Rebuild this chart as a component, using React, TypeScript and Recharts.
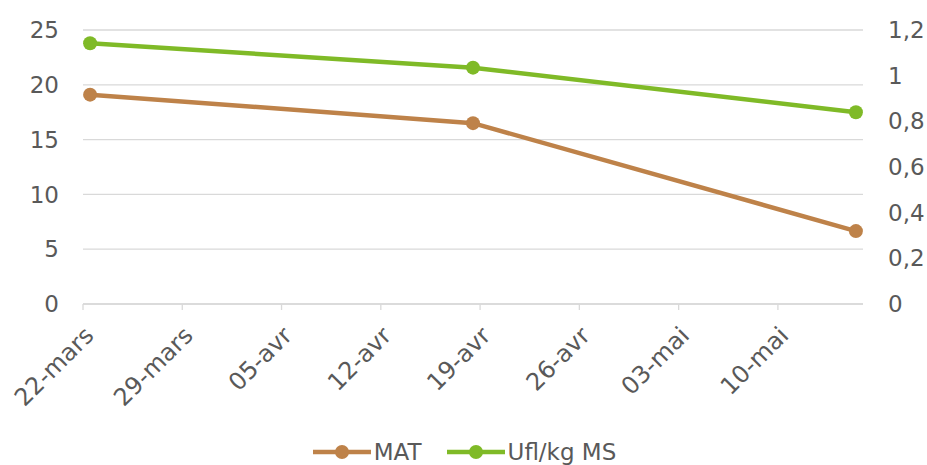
import { LineChart, Line, XAxis, YAxis, CartesianGrid, Legend } from 'recharts';

// days counted from 22-mars
const sampleDays = [0, 27, 54];
const sampleDates = ['22-mars', '18-avr', '15-mai'];
const matValues = [19.1, 16.5, 6.65];
const uflValues = [1.142, 1.035, 0.84];

const tickDays = [0, 7, 14, 21, 28, 35, 42, 49];
const tickLabels = ['22-mars', '29-mars', '05-avr', '12-avr', '19-avr', '26-avr', '03-mai', '10-mai'];
const leftTicks = [0, 5, 10, 15, 20, 25];
const rightTicks = [0, 0.2, 0.4, 0.6, 0.8, 1, 1.2];

const MAT_COLOR = '#BE8249';
const UFL_COLOR = '#7FBA27';
const TEXT = '#595959';
const GRID = '#D9D9D9';
const FONT = 'Verdana, "DejaVu Sans", sans-serif';

// Excel date axis puts each point in the middle of its day
const data = sampleDays.map((d, i) => ({
  day: d + 0.5,
  date: sampleDates[i],
  mat: matValues[i],
  ufl: uflValues[i],
}));

const DateTick = (props: any) => {
  const { x, y, payload } = props;
  const idx = tickDays.indexOf(payload.value);
  const tx = x + 12;
  const ty = y + 25;
  return (
    <text
      x={tx}
      y={ty}
      transform={`rotate(-45, ${tx}, ${ty})`}
      textAnchor="end"
      fill={TEXT}
      fontSize={24}
      fontFamily={FONT}
    >
      {idx >= 0 ? tickLabels[idx] : ''}
    </text>
  );
};

const LegendContent = () => {
  const items = [
    { name: 'MAT', color: MAT_COLOR },
    { name: 'Ufl/kg MS', color: UFL_COLOR },
  ];
  return (
    <div style={{ display: 'flex', justifyContent: 'center', alignItems: 'center', height: 30, paddingLeft: 2 }}>
      {items.map((it, i) => (
        <div key={it.name} style={{ display: 'flex', alignItems: 'center', marginLeft: i === 0 ? 0 : 25 }}>
          <svg width={58} height={16}>
            <line x1={0} y1={8} x2={58} y2={8} stroke={it.color} strokeWidth={4.5} />
            <circle cx={29} cy={8} r={7} fill={it.color} />
          </svg>
          <span style={{ marginLeft: 3, fontSize: 23, fontFamily: FONT, color: TEXT, lineHeight: '30px' }}>{it.name}</span>
        </div>
      ))}
    </div>
  );
};

export default function App() {
  return (
    <div style={{ position: 'absolute', left: 0, top: 0, background: '#fff' }}>
      <LineChart width={927} height={465} data={data} margin={{ top: 30, right: 0, left: 0, bottom: 0 }}>
        <CartesianGrid vertical={false} stroke={GRID} strokeWidth={1.3} yAxisId="left" />
        <XAxis
          dataKey="day"
          type="number"
          domain={[0, 55]}
          ticks={tickDays}
          interval={0}
          height={131}
          tick={<DateTick />}
          tickSize={6}
          axisLine={{ stroke: GRID, strokeWidth: 1.3 }}
          tickLine={{ stroke: GRID, strokeWidth: 1.3 }}
        />
        <YAxis
          yAxisId="left"
          width={83}
          domain={[0, 25]}
          ticks={leftTicks}
          interval={0}
          axisLine={false}
          tickLine={false}
          tickSize={1}
          tickMargin={23}
          tick={{ fill: TEXT, fontSize: 23, fontFamily: FONT }}
        />
        <YAxis
          yAxisId="right"
          orientation="right"
          width={64}
          domain={[0, 1.2]}
          ticks={rightTicks}
          interval={0}
          axisLine={false}
          tickLine={false}
          tickSize={1}
          tickMargin={24}
          tickFormatter={(v: number) => String(Math.round(v * 10) / 10).replace('.', ',')}
          tick={{ fill: TEXT, fontSize: 23, fontFamily: FONT, textAnchor: 'start' }}
        />
        <Legend
          content={<LegendContent />}
          wrapperStyle={{ position: 'absolute', left: 0, top: 437, width: 927, height: 30 }}
        />
        <Line
          yAxisId="left"
          dataKey="mat"
          name="MAT"
          type="linear"
          stroke={MAT_COLOR}
          strokeWidth={4.5}
          dot={{ r: 7, fill: MAT_COLOR, stroke: 'none' }}
          activeDot={false}
          isAnimationActive={false}
        />
        <Line
          yAxisId="right"
          dataKey="ufl"
          name="Ufl/kg MS"
          type="linear"
          stroke={UFL_COLOR}
          strokeWidth={4.5}
          dot={{ r: 7, fill: UFL_COLOR, stroke: 'none' }}
          activeDot={false}
          isAnimationActive={false}
        />
      </LineChart>
    </div>
  );
}
